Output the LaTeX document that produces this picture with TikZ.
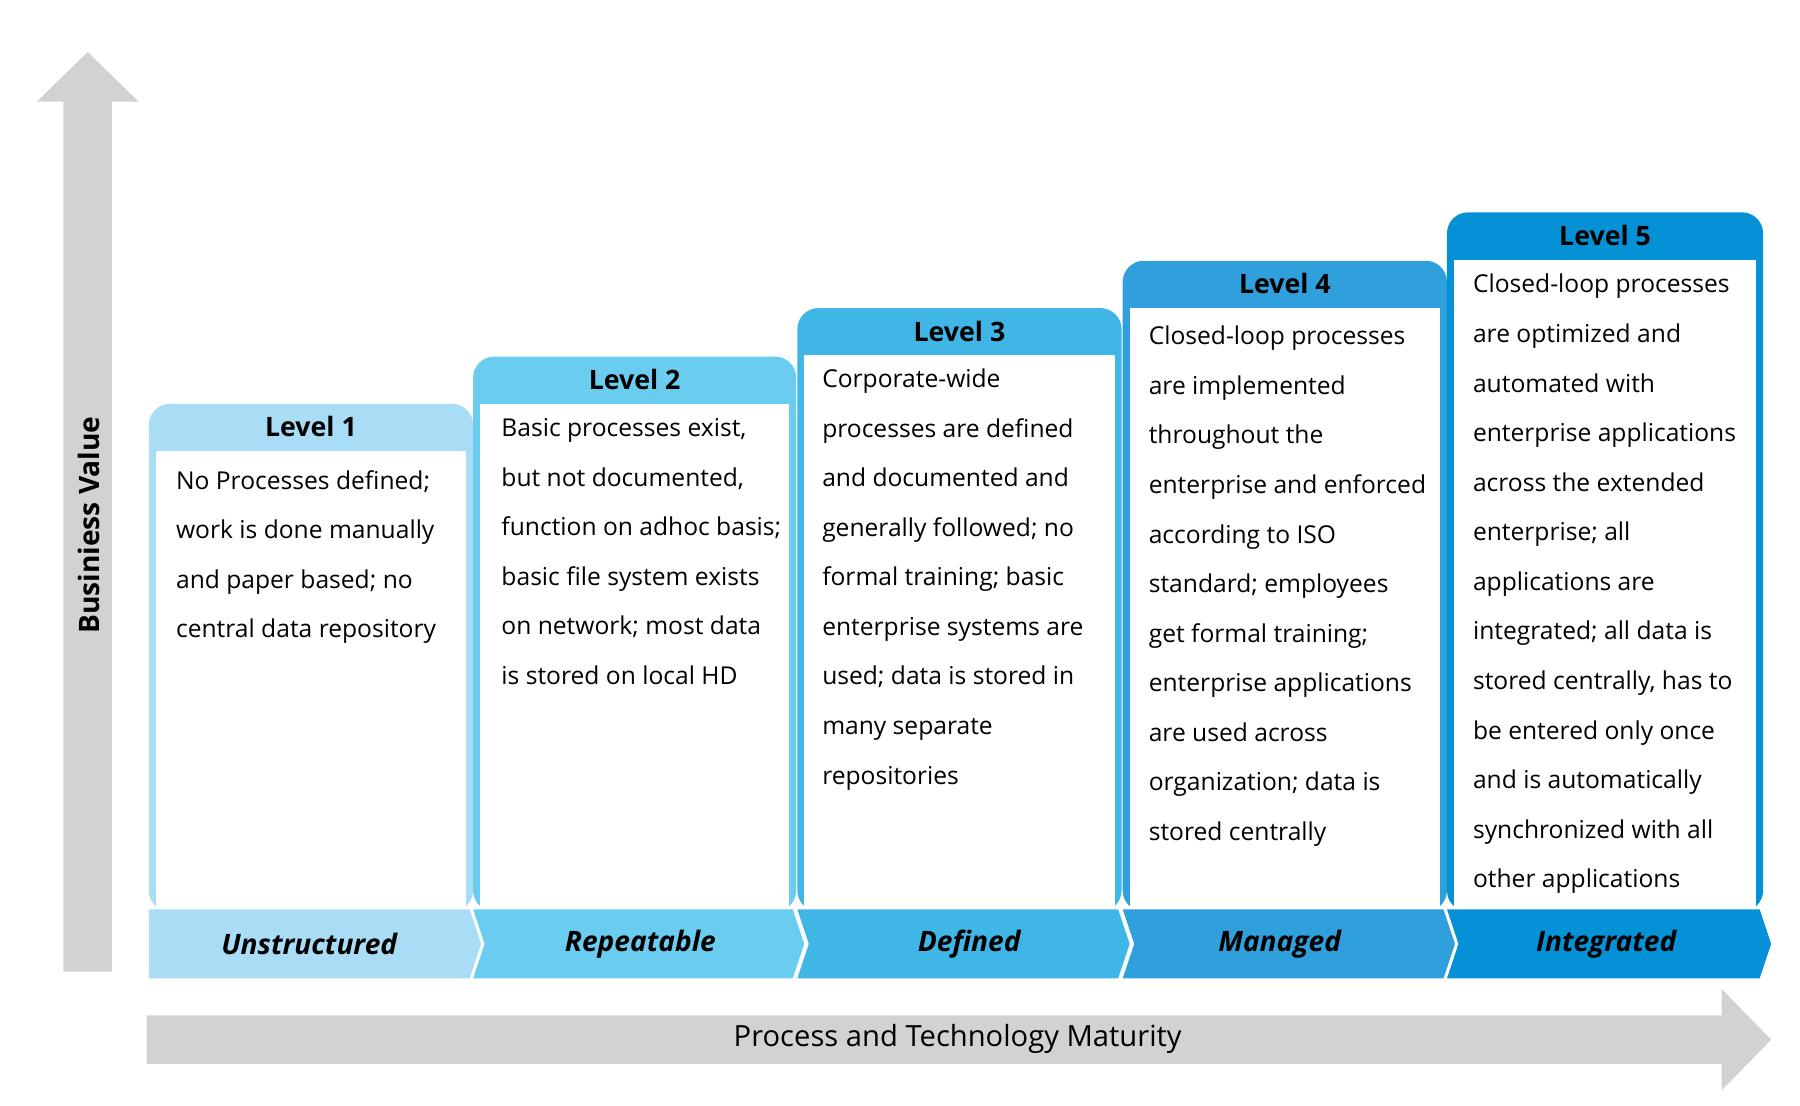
\documentclass[tikz,border=0pt]{standalone}
\usepackage{fontspec}
\setmainfont{Open Sans}
\begin{document}
\begin{tikzpicture}[x=0.011538cm,y=-0.011538cm,
  axis/.style={fill=gray!35,draw=none},
  body/.style={anchor=north west,align=left,inner sep=0pt,font=\fontsize{7}{14.1}\selectfont},
  title/.style={font=\fontsize{7.6}{9}\selectfont\bfseries},
  band/.style={font=\fontsize{8}{9}\selectfont\bfseries\itshape}]
\useasboundingbox (0,0) rectangle (1560,958);
\definecolor{c1}{HTML}{A8DDF5}
\definecolor{c2}{HTML}{6ACDF0}
\definecolor{c3}{HTML}{40B6E6}
\definecolor{c4}{HTML}{2FA0DB}
\definecolor{c5}{HTML}{0591D6}
% axes
\fill[gray!35] (55,842) -- (55,88) -- (32,88) -- (76,45) -- (120,88) -- (97,88) -- (97,842) -- cycle;
\fill[gray!35] (127,880) -- (1492,880) -- (1492,857) -- (1535,901) -- (1492,945) -- (1492,922) -- (127,922) -- cycle;
\node[rotate=90,font=\fontsize{8}{9}\selectfont\bfseries] (bv) at (77,455) {Businiess Value};
\node[font=\fontsize{8.3}{9}\selectfont] (pt) at (830,900) {Process and Technology Maturity};
% columns
\foreach \i/\xa/\xb/\top/\col in {1/129/410/350/c1,2/410/690/309/c2,3/691/972/267/c3,4/973/1254/226/c4,5/1254/1528/184/c5}{
  \fill[\col,rounded corners=6pt] (\xa,790) -- (\xa,\top) -- (\xb,\top) -- (\xb,790) -- cycle;
  \fill[white] (\xa+6,\top+41) rectangle (\xb-6,790);
  \node[title] (t\i) at ({(\xa+\xb)/2},\top+20) {Level \i};
}
% bands
\fill[c1] (129,788) -- (407,788) -- (417,818) -- (407,848) -- (129,848) -- cycle;
\fill[c2] (410,788) -- (687,788) -- (697,818) -- (687,848) -- (410,848) -- (420,818) -- cycle;
\fill[c3] (691,788) -- (969,788) -- (979,818) -- (969,848) -- (691,848) -- (701,818) -- cycle;
\fill[c4] (973,788) -- (1251,788) -- (1261,818) -- (1251,848) -- (973,848) -- (983,818) -- cycle;
\fill[c5] (1254,788) -- (1525,788) -- (1535,818) -- (1525,848) -- (1254,848) -- (1264,818) -- cycle;
\node[band] (b1) at (268,818) {Unstructured};
\node[band] (b2) at (555,818) {Repeatable};
\node[band] (b3) at (840,818) {Defined};
\node[band] (b4) at (1109,818) {Managed};
\node[band] (b5) at (1392,818) {Integrated};
% texts
\node[body] (x1) at (152,407) {No Processes defined;\\work is done manually\\and paper based; no\\central data repository};
\node[body] (x2) at (434,362) {Basic processes exist,\\but not documented,\\function on adhoc basis;\\basic file system exists\\on network; most data\\is stored on local HD};
\node[body] (x3) at (712,319) {Corporate-wide\\processes are defined\\and documented and\\generally followed; no\\formal training; basic\\enterprise systems are\\used; data is stored in\\many separate\\repositories};
\node[body] (x4) at (995,282) {Closed-loop processes\\are implemented\\throughout the\\enterprise and enforced\\according to ISO\\standard; employees\\get formal training;\\enterprise applications\\are used across\\organization; data is\\stored centrally};
\node[body] (x5) at (1276,237) {Closed-loop processes\\are optimized and\\automated with\\enterprise applications\\across the extended\\enterprise; all\\applications are\\integrated; all data is\\stored centrally, has to\\be entered only once\\and is automatically\\synchronized with all\\other applications};
\end{tikzpicture}
\end{document}
